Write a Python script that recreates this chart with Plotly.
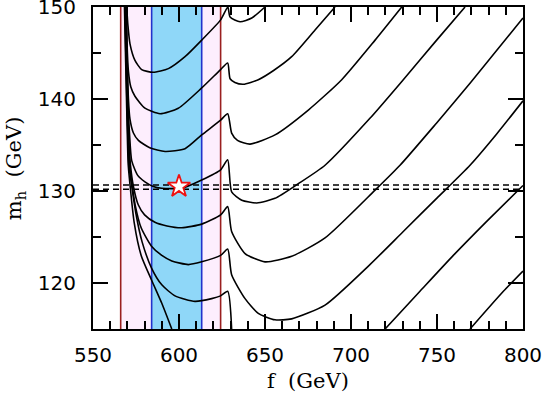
import plotly.graph_objects as go

# ---- data ----
c0_f = [569.6, 570.3, 571.5, 574.4, 578.3, 584.9, 593.8, 603.5, 613.2, 624.2, 628.4,
        629.7, 635.5, 642.3, 650.0]
c0_m = [150.0, 148.0, 146.0, 144.2, 143.2, 142.9, 143.3, 144.6, 146.4, 148.6, 150.0,
        148.9, 148.4, 148.8, 150.0]

c1_f = [569.4, 569.8, 570.6, 572.0, 574.4, 580.2, 589.0, 599.6, 613.2, 624.2, 628.3,
        629.7, 632.5, 637.4, 646.1, 655.0, 665.5, 679.1, 690.7]
c1_m = [150.0, 146.0, 143.0, 141.3, 140.3, 139.0, 138.4, 139.0, 141.2, 143.2, 143.9,
        142.2, 141.8, 141.6, 142.1, 143.1, 144.6, 147.5, 150.0]

c2_f = [569.2, 569.9, 570.6, 571.5, 573.5, 576.4, 583.0, 591.9, 603.5, 613.2, 624.2, 628.3,
        630.6, 634.0, 641.3, 655.8, 675.2, 694.6, 714.0, 729.5]
c2_m = [150.0, 144.0, 140.0, 137.8, 136.3, 135.5, 134.7, 134.3, 134.6, 136.1, 137.7, 138.4,
        136.3, 135.5, 135.1, 136.1, 138.8, 142.1, 146.4, 150.0]

c3_f = [569.0, 569.8, 570.3, 571.3, 572.5, 576.0, 580.2, 585.0, 590.0, 601.6, 613.2, 624.2, 628.3,
        630.6, 636.5, 645.2, 655.8, 669.4, 684.9, 711.0, 730.4, 749.8, 766.3]
c3_m = [150.0, 144.0, 140.0, 136.0, 133.3, 131.7, 131.0, 130.5, 130.3, 130.3, 131.2, 132.3, 133.4,
        129.9, 129.0, 128.7, 129.2, 130.8, 132.8, 137.9, 142.1, 146.4, 150.0]

c4_f = [568.9, 569.6, 570.2, 571.0, 571.8, 573.5, 576.3, 580.0, 586.0, 593.0, 601.6, 613.2, 624.2, 628.3,
        630.6, 638.4, 650.0, 665.5, 684.9, 714.0, 728.5, 749.8, 769.2, 800.0]
c4_m = [150.0, 144.0, 139.0, 135.0, 132.8, 130.5, 128.5, 127.4, 126.6, 126.2, 126.0, 126.4, 127.4, 128.3,
        125.6, 123.2, 122.3, 122.9, 124.9, 130.1, 132.8, 137.4, 141.7, 148.8]

c5_f = [568.7, 569.4, 570.0, 570.7, 571.3, 574.5, 578.0, 584.0, 590.0, 595.8, 605.4, 613.2, 624.2, 628.3,
        630.6, 638.4, 646.1, 655.8, 665.5, 684.9, 711.0, 730.4, 749.8, 769.2, 784.7, 800.0]
c5_m = [150.0, 144.0, 139.0, 135.0, 132.8, 128.5, 126.0, 124.0, 123.0, 122.4, 122.0, 122.3, 123.0, 123.7,
        120.9, 118.3, 116.7, 116.0, 116.1, 117.6, 122.0, 125.6, 129.2, 132.8, 136.2, 139.8]

c6_f = [568.5, 569.2, 569.8, 570.4, 570.9, 575.0, 578.5, 584.1, 590.0, 597.7, 609.3, 619.0, 624.2, 628.3,
        630.6, None, 719.8, 740.1, 759.5, 778.9, 800.0]
c6_m = [150.0, 144.0, 139.0, 135.0, 132.8, 127.5, 124.5, 121.6, 119.8, 118.6, 118.0, 118.3, 118.6, 119.1,
        115.0, None, 115.0, 119.1, 123.0, 126.7, 130.6]

c7_f = [568.3, 569.0, 569.6, 570.1, 570.5, 574.0, 578.0, 584.1, 590.0, 595.8, None, 769.2, 788.6, 800.0]
c7_m = [150.0, 144.0, 139.0, 135.0, 132.8, 126.5, 123.0, 120.3, 117.8, 115.0, None, 115.0, 119.1, 121.3]

curves_f = [c0_f, c1_f, c2_f, c3_f, c4_f, c5_f, c6_f, c7_f]
curves_m = [c0_m, c1_m, c2_m, c3_m, c4_m, c5_m, c6_m, c7_m]

outer_band = [566.1, 624.2]   # pink band edges (red lines)
inner_band = [584.1, 613.2]   # blue band edges (blue lines)
mh_lines = [130.2, 130.65]    # dashed horizontal lines
star_f = [600.0]
star_m = [130.5]

x_range = [550, 800]
y_range = [115, 150]

fig = go.Figure()

# bands
fig.add_shape(type="rect", xref="x", yref="y", x0=outer_band[0], x1=outer_band[1],
              y0=y_range[0], y1=y_range[1], fillcolor="#fdeefd", line_width=0, layer="below")
fig.add_shape(type="rect", xref="x", yref="y", x0=inner_band[0], x1=inner_band[1],
              y0=y_range[0], y1=y_range[1], fillcolor="#8fd7f8", line_width=0, layer="below")
for xv in outer_band:
    fig.add_shape(type="line", xref="x", yref="y", x0=xv, x1=xv, y0=y_range[0], y1=y_range[1],
                  line=dict(color="#9a1f1f", width=1.6), layer="below")
for xv in inner_band:
    fig.add_shape(type="line", xref="x", yref="y", x0=xv, x1=xv, y0=y_range[0], y1=y_range[1],
                  line=dict(color="#2233cc", width=1.6), layer="below")

for fx, my in zip(curves_f, curves_m):
    fig.add_trace(go.Scatter(x=fx, y=my, mode="lines",
                             line=dict(color="black", width=1.6, shape="spline", smoothing=0.6),
                             showlegend=False, hoverinfo="skip", connectgaps=False))

for yv in mh_lines:
    fig.add_trace(go.Scatter(x=x_range, y=[yv, yv], mode="lines",
                             line=dict(color="black", width=1.5, dash="6px,4px"),
                             showlegend=False, hoverinfo="skip"))

fig.add_trace(go.Scatter(x=star_f, y=star_m, mode="markers",
                         marker=dict(symbol="star", size=17, color="white",
                                     line=dict(color="#ee1111", width=1.8)),
                         showlegend=False, hoverinfo="skip"))

tickfont = dict(family="DejaVu Sans", size=20, color="black")
titlefont = dict(family="DejaVu Serif", size=21, color="black")

fig.update_layout(
    width=543, height=394,
    margin=dict(l=93, r=20, t=7, b=65),
    paper_bgcolor="white", plot_bgcolor="white",
    xaxis=dict(range=x_range, tick0=550, dtick=50, ticks="inside", ticklen=15, tickwidth=1.5,
               tickcolor="black", showline=True, linewidth=2, linecolor="black", mirror="ticks",
               showgrid=False, zeroline=False, tickfont=tickfont, automargin=False,
               ticklabeloverflow="allow", ticklabelstandoff=7,
               minor=dict(dtick=10, tick0=550, ticks="inside", ticklen=8, tickwidth=1.5,
                          tickcolor="black", showgrid=False)),
    yaxis=dict(range=y_range, tick0=120, dtick=10, ticks="inside", ticklen=15, tickwidth=1.5,
               tickcolor="black", showline=True, linewidth=2, linecolor="black", mirror="ticks",
               showgrid=False, zeroline=False, tickfont=tickfont, automargin=False,
               ticklabeloverflow="allow", ticklabelstandoff=11,
               minor=dict(dtick=5, tick0=115, ticks="inside", ticklen=8, tickwidth=1.5,
                          tickcolor="black", showgrid=False)),
    annotations=[
        dict(text="f  (GeV)", xref="paper", yref="paper", x=0.5, y=-0.162,
             xanchor="center", yanchor="middle", showarrow=False, font=titlefont),
        dict(text="m<sub>h</sub>  (GeV)", xref="paper", yref="paper", x=-0.181, y=0.5,
             xanchor="center", yanchor="middle", textangle=-90, showarrow=False, font=titlefont),
    ],
)

fig.write_html("out.html", config={"displayModeBar": False},
               post_script="document.body.style.margin='0px';")
